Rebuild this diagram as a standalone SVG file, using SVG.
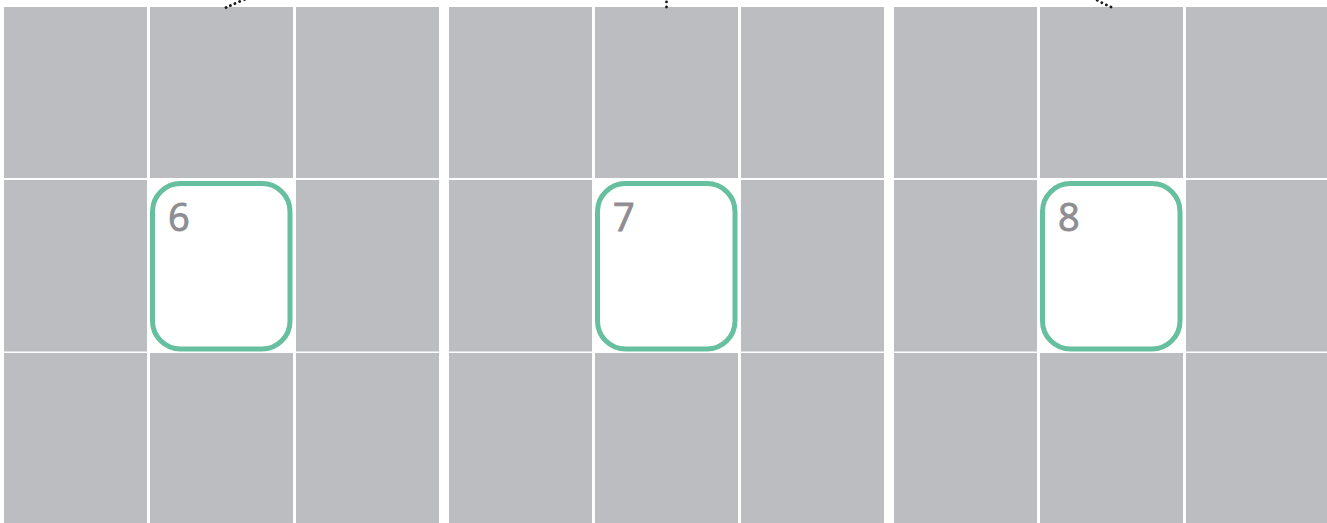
<svg xmlns="http://www.w3.org/2000/svg" width="1327" height="523" viewBox="0 0 1327 523">
<style>
.c{fill:#bcbdc1}
.sel{fill:#ffffff;stroke:#66bf9e;stroke-width:5}
.num{font-family:"Open Sans","Noto Sans","Liberation Sans",sans-serif;font-size:38px;fill:#8e8e92;stroke:#8e8e92;stroke-width:0.9}
.dot{fill:none;stroke:#1a1a1a;stroke-width:2.8;stroke-linecap:round;stroke-dasharray:0.1 5}
</style>
<defs>
<g id="grid">
<rect class="c" x="0" y="7" width="143" height="171"/>
<rect class="c" x="146" y="7" width="143" height="171"/>
<rect class="c" x="292" y="7" width="143" height="171"/>
<rect class="c" x="0" y="180" width="143" height="171.5"/>
<rect class="c" x="292" y="180" width="143" height="171.5"/>
<rect class="c" x="0" y="353" width="143" height="171"/>
<rect class="c" x="146" y="353" width="143" height="171"/>
<rect class="c" x="292" y="353" width="143" height="171"/>
</g>
</defs>
<rect width="1327" height="523" fill="#ffffff"/>
<g id="panel6">
<use href="#grid" x="4"/>
<rect class="sel" x="152.5" y="183.5" width="137.5" height="165.5" rx="28"/>
<text class="num" x="168" y="231">6</text>
</g>
<g id="panel7">
<use href="#grid" x="449"/>
<rect class="sel" x="597.5" y="183.5" width="137.5" height="165.5" rx="28"/>
<text class="num" x="613" y="231">7</text>
</g>
<g id="panel8">
<use href="#grid" x="894"/>
<rect class="sel" x="1042.5" y="183.5" width="137.5" height="165.5" rx="28"/>
<text class="num" x="1058" y="231">8</text>
</g>
<g id="connectors">
<path class="dot" d="M226,7.5 Q236,3 248,-2"/>
<path class="dot" d="M666.5,7 L666.5,-3"/>
<path class="dot" d="M1111,7 Q1102,3 1093,-2"/>
</g>
</svg>
